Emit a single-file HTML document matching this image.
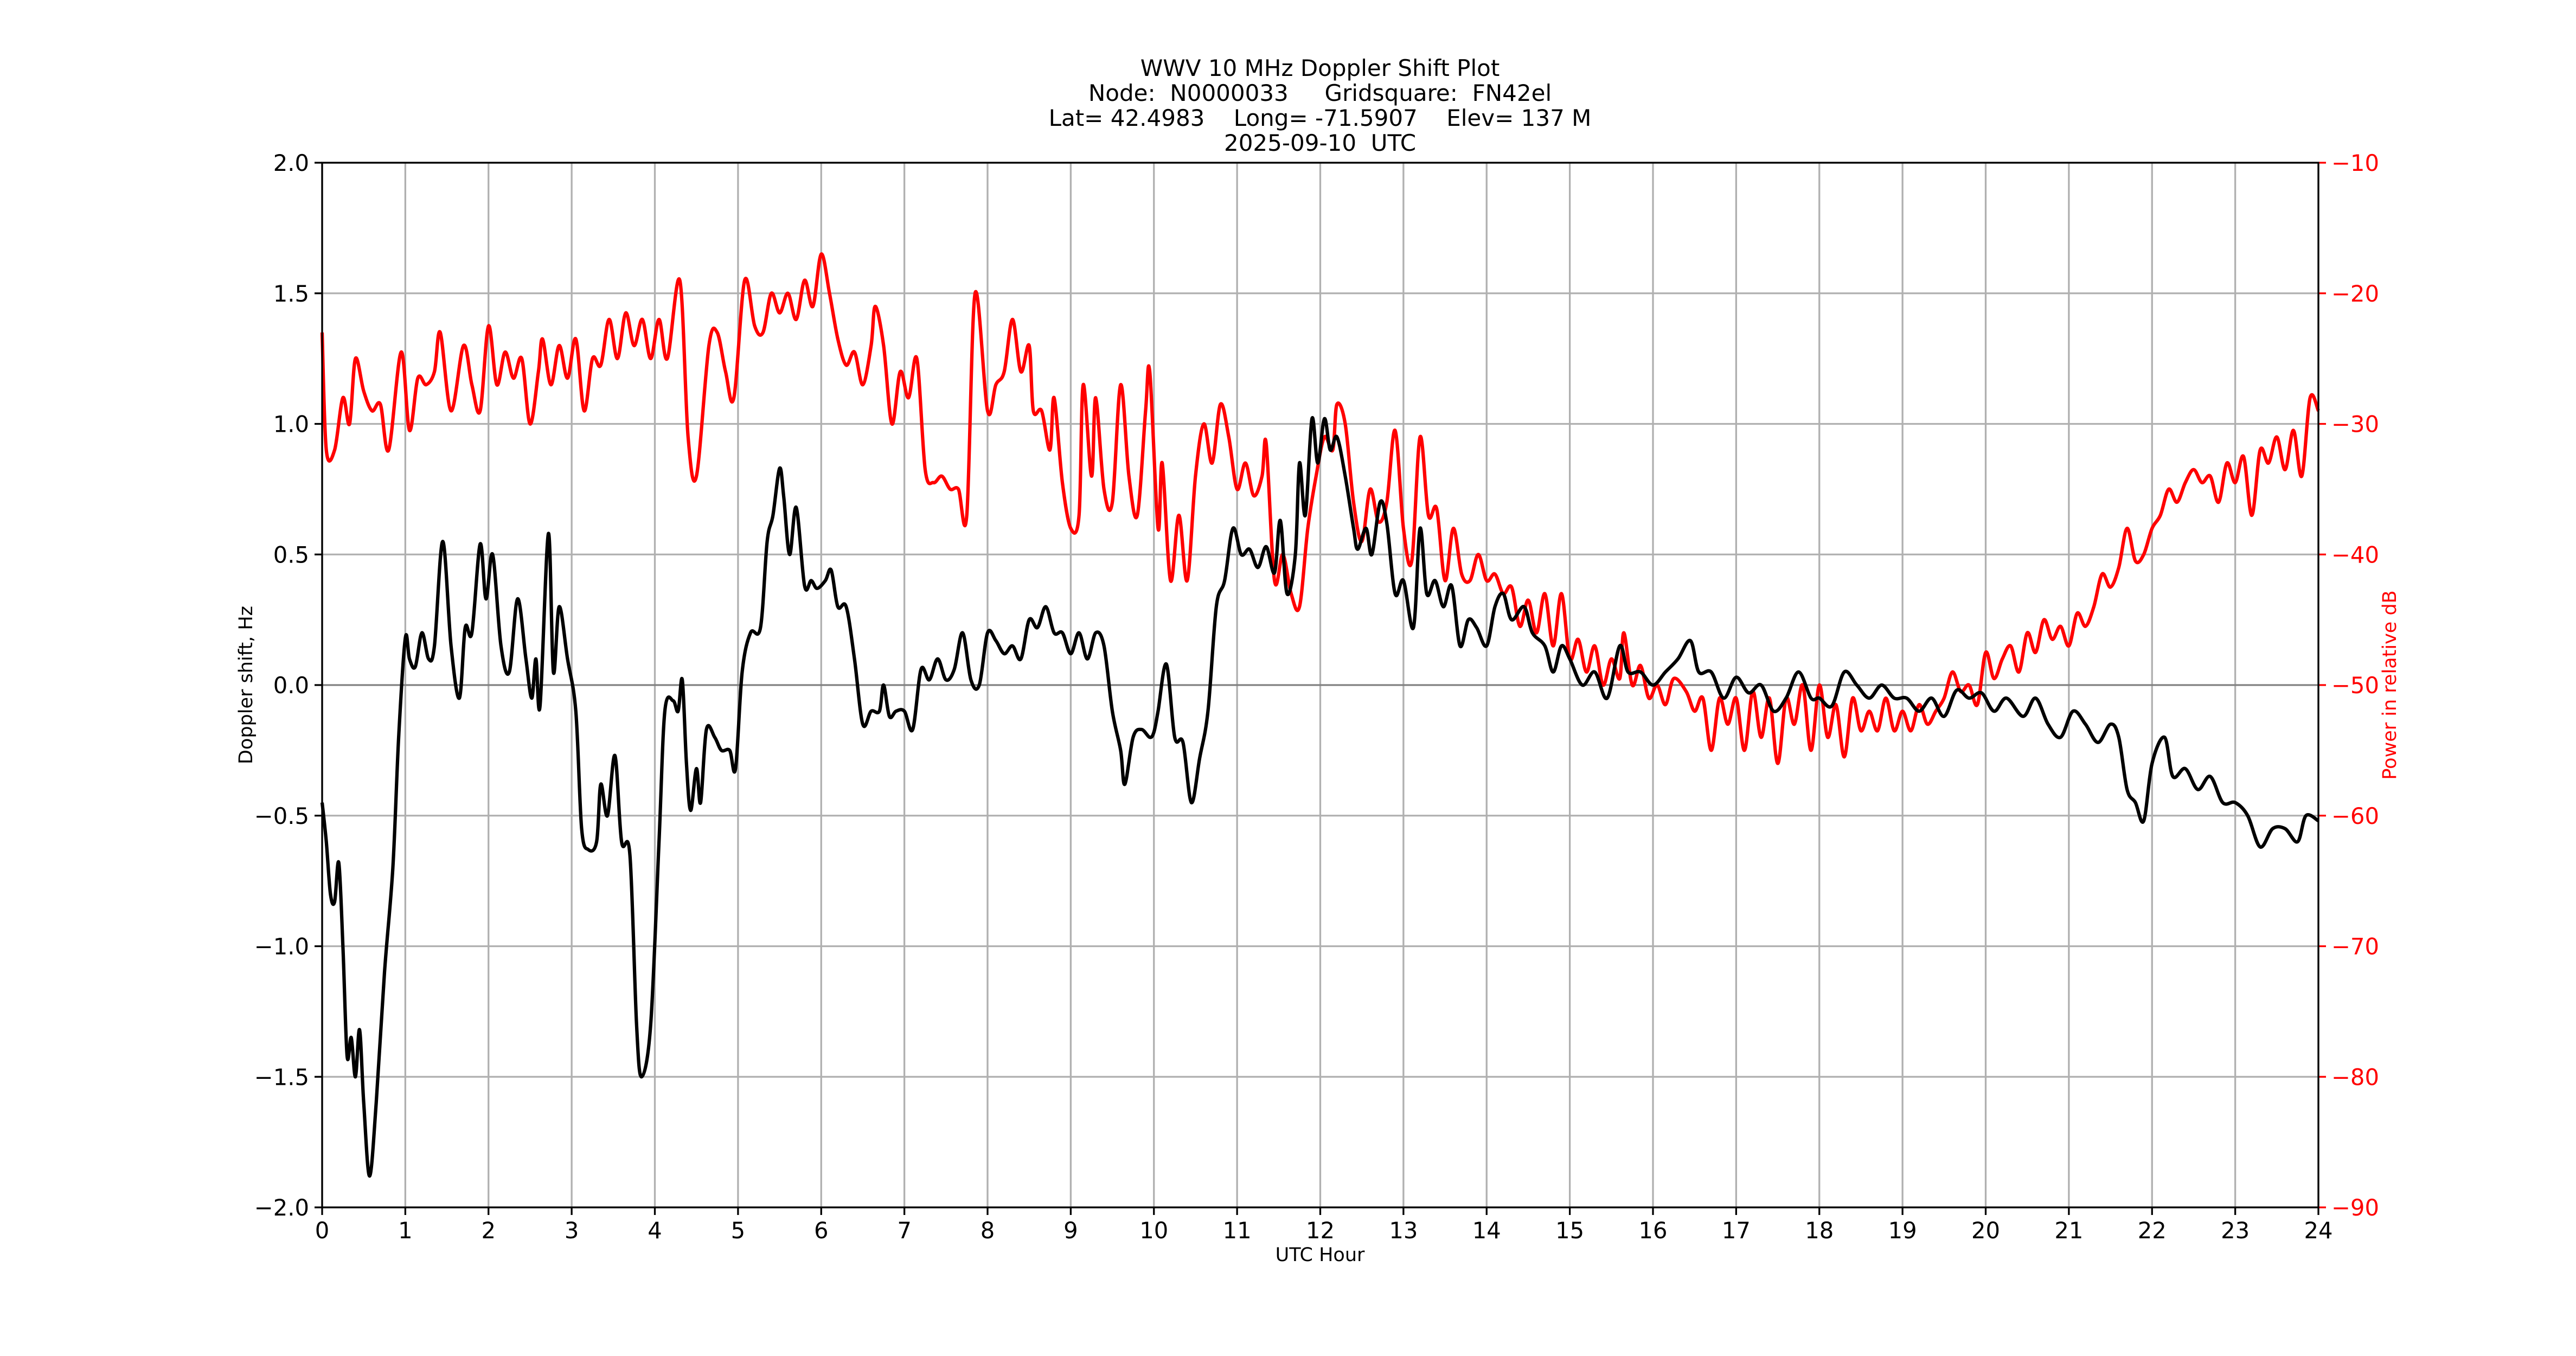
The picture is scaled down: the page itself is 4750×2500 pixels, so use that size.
<!DOCTYPE html>
<html><head><meta charset="utf-8"><style>
html,body{margin:0;padding:0;background:#fff;}
svg{display:block;font-family:"DejaVu Sans","Liberation Sans",sans-serif;}
text{white-space:pre;}
</style></head><body>
<svg id="chart" width="4750" height="2500" viewBox="0 0 4750 2500" xmlns="http://www.w3.org/2000/svg" xml:space="preserve">
<g font-size="42" text-anchor="middle" fill="#000">
<text x="2434" y="140" xml:space="preserve">WWV 10 MHz Doppler Shift Plot</text>
<text x="2434" y="186" xml:space="preserve">Node:  N0000033     Gridsquare:  FN42el</text>
<text x="2434" y="232" xml:space="preserve">Lat= 42.4983    Long= -71.5907    Elev= 137 M</text>
<text x="2434" y="278" xml:space="preserve">2025-09-10  UTC</text>
</g>
<g id="grid"></g>
<g id="series"></g>
<g id="axes"></g>
<text x="2434" y="2325" font-size="35" text-anchor="middle">UTC Hour</text>
<text transform="translate(465,1263) rotate(-90)" font-size="35" text-anchor="middle">Doppler shift, Hz</text>
<text transform="translate(4418,1263) rotate(-90)" font-size="35" text-anchor="middle" fill="#ff0000">Power in relative dB</text>
</svg>
<script>
const xTicks=[0,1,2,3,4,5,6,7,8,9,10,11,12,13,14,15,16,17,18,19,20,21,22,23,24];
const yTicks=[-2.0,-1.5,-1.0,-0.5,0.0,0.5,1.0,1.5,2.0];
const y2Ticks=[-90,-80,-70,-60,-50,-40,-30,-20,-10];
const dopHours=[0,0.05,0.1,0.15,0.2,0.25,0.3,0.35,0.4,0.45,0.5,0.57,0.65,0.75,0.85,0.92,1.0,1.05,1.12,1.2,1.28,1.35,1.45,1.55,1.65,1.72,1.8,1.9,1.97,2.05,2.15,2.25,2.35,2.45,2.52,2.57,2.62,2.72,2.78,2.85,2.95,3.05,3.12,3.2,3.3,3.35,3.43,3.52,3.6,3.7,3.78,3.84,3.95,4.05,4.12,4.22,4.28,4.33,4.38,4.43,4.5,4.55,4.62,4.72,4.8,4.9,4.97,5.05,5.15,5.27,5.35,5.42,5.5,5.55,5.62,5.7,5.8,5.88,5.95,6.05,6.12,6.2,6.3,6.4,6.5,6.6,6.7,6.75,6.82,6.9,7.0,7.1,7.2,7.3,7.4,7.5,7.6,7.7,7.8,7.9,8.0,8.1,8.2,8.3,8.4,8.5,8.6,8.7,8.8,8.9,9.0,9.1,9.2,9.3,9.4,9.5,9.6,9.65,9.75,9.85,9.95,10.0,10.05,10.15,10.25,10.35,10.45,10.55,10.65,10.75,10.85,10.95,11.05,11.15,11.25,11.35,11.45,11.52,11.6,11.7,11.75,11.82,11.9,11.97,12.05,12.12,12.2,12.3,12.4,12.45,12.55,12.62,12.72,12.8,12.9,13.0,13.12,13.2,13.28,13.38,13.48,13.58,13.68,13.78,13.88,14.0,14.1,14.2,14.3,14.45,14.55,14.7,14.8,14.9,15.0,15.15,15.3,15.45,15.6,15.7,15.85,16.0,16.15,16.3,16.45,16.55,16.7,16.85,17.0,17.15,17.3,17.45,17.6,17.75,17.9,18.0,18.15,18.3,18.45,18.6,18.75,18.9,19.05,19.2,19.35,19.5,19.65,19.8,19.95,20.1,20.25,20.45,20.6,20.75,20.9,21.05,21.2,21.35,21.5,21.6,21.7,21.8,21.9,22.0,22.15,22.25,22.4,22.55,22.7,22.85,23.0,23.15,23.3,23.45,23.6,23.75,23.85,24.0];
const dopValues=[-0.45,-0.6,-0.8,-0.83,-0.68,-1.0,-1.42,-1.35,-1.5,-1.32,-1.6,-1.88,-1.6,-1.1,-0.7,-0.2,0.18,0.1,0.07,0.2,0.1,0.15,0.55,0.15,-0.05,0.22,0.2,0.54,0.33,0.5,0.15,0.05,0.33,0.1,-0.05,0.1,-0.08,0.58,0.05,0.3,0.1,-0.1,-0.55,-0.63,-0.6,-0.38,-0.5,-0.27,-0.6,-0.65,-1.3,-1.5,-1.3,-0.6,-0.1,-0.06,-0.1,0.02,-0.3,-0.48,-0.32,-0.45,-0.17,-0.2,-0.25,-0.25,-0.32,0.05,0.2,0.22,0.55,0.65,0.83,0.72,0.5,0.68,0.38,0.4,0.37,0.4,0.44,0.3,0.3,0.1,-0.15,-0.1,-0.1,0.0,-0.12,-0.1,-0.1,-0.17,0.06,0.02,0.1,0.02,0.06,0.2,0.02,0.0,0.2,0.17,0.12,0.15,0.1,0.25,0.22,0.3,0.2,0.2,0.12,0.2,0.1,0.2,0.15,-0.1,-0.25,-0.38,-0.2,-0.17,-0.2,-0.18,-0.1,0.08,-0.2,-0.22,-0.45,-0.28,-0.1,0.3,0.4,0.6,0.5,0.52,0.45,0.53,0.43,0.63,0.35,0.5,0.85,0.65,1.02,0.85,1.02,0.9,0.95,0.8,0.6,0.52,0.6,0.5,0.7,0.62,0.35,0.4,0.22,0.6,0.35,0.4,0.3,0.38,0.15,0.25,0.22,0.15,0.3,0.35,0.25,0.3,0.2,0.15,0.05,0.15,0.1,0.0,0.05,-0.05,0.15,0.05,0.05,0.0,0.05,0.1,0.17,0.05,0.05,-0.05,0.03,-0.03,0.0,-0.1,-0.05,0.05,-0.05,-0.05,-0.08,0.05,0.0,-0.05,0.0,-0.05,-0.05,-0.1,-0.05,-0.12,-0.02,-0.05,-0.03,-0.1,-0.05,-0.12,-0.05,-0.15,-0.2,-0.1,-0.15,-0.22,-0.15,-0.2,-0.4,-0.45,-0.52,-0.3,-0.2,-0.35,-0.32,-0.4,-0.35,-0.45,-0.45,-0.5,-0.62,-0.55,-0.55,-0.6,-0.5,-0.52];
const pwrHours=[0,0.05,0.15,0.25,0.33,0.4,0.5,0.6,0.7,0.8,0.95,1.05,1.15,1.25,1.35,1.42,1.55,1.7,1.8,1.9,2.0,2.1,2.2,2.3,2.4,2.5,2.6,2.65,2.75,2.85,2.95,3.05,3.15,3.25,3.35,3.45,3.55,3.65,3.75,3.85,3.95,4.05,4.15,4.3,4.4,4.5,4.65,4.75,4.85,4.95,5.08,5.2,5.3,5.4,5.5,5.6,5.7,5.8,5.9,6.0,6.1,6.2,6.3,6.4,6.5,6.6,6.65,6.75,6.85,6.95,7.05,7.15,7.25,7.35,7.45,7.55,7.65,7.75,7.85,8.0,8.1,8.2,8.3,8.4,8.5,8.55,8.65,8.75,8.8,8.9,9.0,9.1,9.15,9.25,9.3,9.4,9.5,9.6,9.7,9.8,9.9,9.95,10.05,10.1,10.2,10.3,10.4,10.5,10.6,10.7,10.8,10.9,11.0,11.1,11.2,11.3,11.35,11.45,11.55,11.65,11.75,11.85,11.95,12.05,12.15,12.2,12.3,12.4,12.5,12.6,12.7,12.8,12.9,13.0,13.1,13.2,13.3,13.4,13.5,13.6,13.7,13.8,13.9,14.0,14.1,14.2,14.3,14.4,14.5,14.6,14.7,14.8,14.9,15.0,15.1,15.2,15.3,15.4,15.5,15.6,15.65,15.75,15.85,15.95,16.05,16.15,16.25,16.4,16.5,16.6,16.7,16.8,16.9,17.0,17.1,17.2,17.3,17.4,17.5,17.6,17.7,17.8,17.9,18.0,18.1,18.2,18.3,18.4,18.5,18.6,18.7,18.8,18.9,19.0,19.1,19.2,19.3,19.4,19.5,19.6,19.7,19.8,19.9,20.0,20.1,20.2,20.3,20.4,20.5,20.6,20.7,20.8,20.9,21.0,21.1,21.2,21.3,21.4,21.5,21.6,21.7,21.8,21.9,22.0,22.1,22.2,22.3,22.4,22.5,22.6,22.7,22.8,22.9,23.0,23.1,23.2,23.3,23.4,23.5,23.6,23.7,23.8,23.9,24.0];
const pwrValues=[-23,-32,-32,-28,-30,-25,-27.5,-29,-28.5,-32,-24.5,-30.5,-26.5,-27,-26,-23,-29,-24,-27,-29,-22.5,-27,-24.5,-26.5,-25,-30,-26,-23.5,-27,-24,-26.5,-23.5,-29,-25,-25.5,-22,-25,-21.5,-24,-22,-25,-22,-25,-19,-31,-34,-24,-23,-26,-28,-19,-22.5,-23,-20,-21.5,-20,-22,-19,-21,-17,-20,-23.5,-25.5,-24.5,-27,-24,-21,-24,-30,-26,-28,-25,-33.5,-34.5,-34,-35,-35,-37,-20,-29,-27,-26,-22,-26,-24,-29,-29,-32,-28,-34.5,-38,-37,-27,-34,-28,-35,-36,-27,-34,-37,-29,-26,-38,-33,-42,-37,-42,-34,-30,-33,-28.5,-31,-35,-33,-35.5,-34,-31.5,-42,-40,-43,-44,-38,-34,-31,-32,-28.5,-30,-36,-39,-35,-37.5,-36,-30.5,-38,-40.5,-31,-37,-36.5,-42,-38,-41.5,-42,-40,-42,-41.5,-43,-42.5,-45.5,-43.5,-46,-43,-47,-43,-48,-46.5,-49,-47,-50,-48,-49.5,-46,-50,-48.5,-51,-50,-51.5,-49.5,-50.5,-52,-51,-55,-51,-53,-51,-55,-50.5,-54,-51,-56,-51,-53,-50,-55,-50,-54,-51.5,-55.5,-51,-53.5,-52,-53.5,-51,-53.5,-52,-53.5,-51.5,-53,-52,-51,-49,-50.5,-50,-51.5,-47.5,-49.5,-48,-47,-49,-46,-47.5,-45,-46.5,-45.5,-47,-44.5,-45.5,-44,-41.5,-42.5,-41,-38,-40.5,-40,-38,-37,-35,-36,-34.5,-33.5,-34.5,-34,-36,-33,-34.5,-32.5,-37,-32,-33,-31,-33.5,-30.5,-34,-28,-29];

const L=594,R=4275,T=300,B=2226;
const NS="http://www.w3.org/2000/svg";
const xS=h=>L+(h/24)*(R-L);
const yS=v=>B-(v+2)/4*(B-T);
const y2S=v=>B-(v+90)/80*(B-T);
function mk(tag,attrs,parent){const e=document.createElementNS(NS,tag);for(const k in attrs)e.setAttribute(k,attrs[k]);parent.appendChild(e);return e;}
function smooth(pts){
  let d='M'+pts[0][0].toFixed(1)+','+pts[0][1].toFixed(1);
  for(let i=0;i<pts.length-1;i++){
    const p0=pts[Math.max(0,i-1)],p1=pts[i],p2=pts[i+1],p3=pts[Math.min(pts.length-1,i+2)];
    const c1x=p1[0]+(p2[0]-p0[0])/6,c1y=p1[1]+(p2[1]-p0[1])/6;
    const c2x=p2[0]-(p3[0]-p1[0])/6,c2y=p2[1]-(p3[1]-p1[1])/6;
    d+=' C'+c1x.toFixed(1)+','+c1y.toFixed(1)+' '+c2x.toFixed(1)+','+c2y.toFixed(1)+' '+p2[0].toFixed(1)+','+p2[1].toFixed(1);
  }
  return d;
}
const grid=document.getElementById('grid'),axes=document.getElementById('axes'),series=document.getElementById('series');
xTicks.forEach(t=>{
  const g=mk('line',{x1:xS(t),x2:xS(t),y1:T,y2:B,stroke:'#b0b0b0','stroke-width':3.3},grid);
  
  
  const tk=mk('line',{x1:xS(t),x2:xS(t),y1:B,y2:B+14,stroke:'#000','stroke-width':3.3},axes);
  
  
  const lb=mk('text',{x:xS(t),y:B+57,'font-size':41.7,'text-anchor':'middle'},axes);
  lb.textContent=String(t);
  
  
});
yTicks.forEach(t=>{
  const g=mk('line',{x1:L,x2:R,y1:yS(t),y2:yS(t),stroke:t===0?'#808080':'#b0b0b0','stroke-width':3.3},grid);
  
  
  const tk=mk('line',{x1:L-14,x2:L,y1:yS(t),y2:yS(t),stroke:'#000','stroke-width':3.3},axes);
  
  
  const lb=mk('text',{x:L-24,y:yS(t)+15,'font-size':41.7,'text-anchor':'end'},axes);
  lb.textContent=(t<0?'\u2212':'')+Math.abs(t).toFixed(1);
  
  
});
y2Ticks.forEach(t=>{
  const tk=mk('line',{x1:R,x2:R+14,y1:y2S(t),y2:y2S(t),stroke:'#ff0000','stroke-width':3.3},axes);
  
  
  const lb=mk('text',{x:R+24,y:y2S(t)+15,'font-size':41.7,'text-anchor':'start',fill:'#ff0000'},axes);
  lb.textContent='\u2212'+Math.abs(t);
  
  
});
const pp=pwrHours.map((h,i)=>[xS(h),y2S(pwrValues[i])]);
const pl=mk('path',{d:smooth(pp),fill:'none',stroke:'#ff0000','stroke-width':6.25,'stroke-linejoin':'round'},series);


const dp=dopHours.map((h,i)=>[xS(h),yS(dopValues[i])]);
const dl=mk('path',{d:smooth(dp),fill:'none',stroke:'#000','stroke-width':6.25,'stroke-linejoin':'round'},series);


const fr=mk('rect',{x:L,y:T,width:R-L,height:B-T,fill:'none',stroke:'#000','stroke-width':3.3},axes);


</script>
</body></html>
